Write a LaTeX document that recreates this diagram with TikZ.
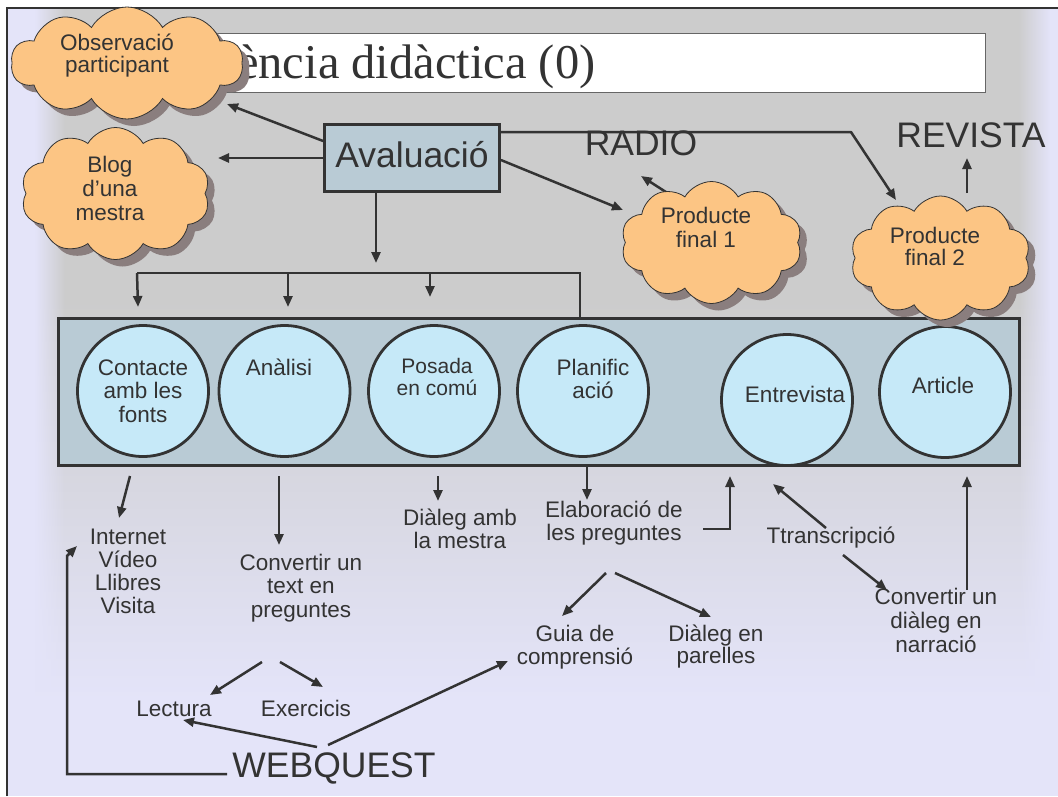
\documentclass[tikz,border=0pt]{standalone}
\usepackage{fontspec}
\setmainfont{Liberation Sans}
\newfontfamily\titleserif{Liberation Serif}
\usetikzlibrary{shapes.symbols,shadows,arrows.meta,fadings}
\definecolor{lav}{HTML}{E4E4F9}
\definecolor{bggray}{HTML}{CCCCCC}
\definecolor{lc}{HTML}{333333}
\definecolor{boxfill}{HTML}{B9CBD5}
\definecolor{circfill}{HTML}{C6E9F8}
\definecolor{cloudfill}{HTML}{FCC584}
\definecolor{shadowc}{HTML}{8A7E7E}
\newcommand{\ml}[1]{\begin{tabular}[t]{@{}c@{}}#1\end{tabular}}
\begin{document}
\begin{tikzpicture}[x=1pt,y=-1pt,
  arr/.style={draw=lc, line width=2.5pt, -{Triangle[length=11pt,width=9pt]}},
  ln/.style={draw=lc, line width=2.5pt},
  cloudnode/.style={cloud, cloud puffs=10, cloud puff arc=120, cloud ignores aspect,
     draw=lc, line width=0.8pt, fill=cloudfill, inner sep=0pt,
     drop shadow={shadow xshift=7pt, shadow yshift=-7pt, fill=shadowc, opacity=1}},
  circnode/.style={circle, minimum size=131pt, draw=lc, line width=2.8pt, fill=circfill, inner sep=0pt},
  txt/.style={inner sep=0pt, text=lc, anchor=base, font=\fontsize{22.5}{23.5}\selectfont},
  ctxt/.style={inner sep=0pt, text=lc, anchor=base, font=\fontsize{22.5}{24}\selectfont},
  bigtxt/.style={inner sep=0pt, text=lc, anchor=base, font=\fontsize{35.5}{38}\selectfont}
]
\useasboundingbox (0,0) rectangle (1058,796);
\fill[white] (0,0) rectangle (1058,796);
% background
\fill[lav] (7,8) rectangle (1058,796);
\fill[bggray] (7,8) rectangle (1058,300);
\shade[top color=bggray, bottom color=lav] (7,300) rectangle (1058,700);
\fill[lav] (7,8) rectangle (35,796);
\fill[lav, path fading=east] (35,8) rectangle (65,796);
\fill[lav, path fading=west] (1018,8) rectangle (1050,796);
\fill[lav] (1050,8) rectangle (1058,796);
\draw[lc, line width=2pt] (7,796) -- (7,8) -- (1058,8);

% title
\node[draw=gray!80!black, line width=0.8pt, fill=white, minimum width=785pt, minimum height=59pt, inner sep=0pt] (titlebox) at (592.5,62.5) {};
\node[inner sep=0pt, anchor=base west, text=lc, font=\titleserif\fontsize{48.5}{50}\selectfont] (title) at (237,78) {ència didàctica (0)};

% panel and circles
\node[draw=lc, line width=2.8pt, fill=boxfill, minimum width=961pt, minimum height=147pt, inner sep=0pt] (panel) at (539,392) {};
\node[circnode] (c1) at (143,391) {};
\node[circnode] (c2) at (284.5,391) {};
\node[circnode] (c3) at (434,391) {};
\node[circnode] (c4) at (583,391) {};
\node[circnode] (c5) at (787,400) {};
\node[circnode] (c6) at (945,392) {};

\node[txt] (c1t) at (143,375) {\ml{Contacte\\amb les\\fonts}};
\node[txt] (c2t) at (279,375) {Anàlisi};
\node[txt, font=\fontsize{21}{22}\selectfont] (c3t) at (437,373) {\ml{Posada\\en comú}};
\node[txt] (c4t) at (593,375) {\ml{Planific\\ació}};
\node[txt] (c5t) at (795,402) {Entrevista};
\node[txt] (c6t) at (943,393) {Article};

% Avaluacio
\node[draw=lc, line width=2.8pt, fill=boxfill, minimum width=175pt, minimum height=67pt, inner sep=0pt,
      text=lc, font=\fontsize{35.5}{38}\selectfont, text height=18pt, text depth=0pt] (aval) at (412,158) {Avaluació};

% big labels
\node[bigtxt] (radio) at (641,155) {RADIO};
\node[bigtxt] (revista) at (971,147) {REVISTA};
\node[bigtxt] (webquest) at (334,777) {WEBQUEST};

% coordinates of free ends
\coordinate (t1) at (227,104);
\coordinate (t2) at (218,158);
\coordinate (t3) at (376,263);
\coordinate (b0) at (580,273);
\coordinate (b1) at (137,273);
\coordinate (d1) at (138,307);
\coordinate (b2) at (288,273);
\coordinate (d2) at (288,307);
\coordinate (b3) at (430,273);
\coordinate (d3) at (430,297);
\coordinate (t5) at (623,210);
\coordinate (k6) at (851,132);
\coordinate (t6) at (896,200);
\coordinate (r1) at (669,194);
\coordinate (r2) at (641,176);
\coordinate (v1) at (967,193);
\coordinate (v2) at (967,158);

% connectors top
\draw[arr] ([yshift=17pt]aval.west) -- (t1);
\draw[arr] (aval.west) -- (t2);
\draw[arr] ([xshift=-36pt]aval.south) -- (t3);
\draw[ln] ([xshift=41pt]panel.north) -- (b0) -- (b1);
\draw[arr] (b1) -- (d1);
\draw[arr] (b2) -- (d2);
\draw[arr] (b3) -- (d3);
\draw[arr] ([yshift=-2pt]aval.east) -- (t5);
\draw[arr, line join=round] ([yshift=26pt]aval.east) -- (k6) -- (t6);
\draw[arr] (r1) -- (r2);
\draw[arr] (v1) -- (v2);

% clouds
\node[cloudnode, minimum width=232pt, minimum height=112pt] (cl1) at (127,63) {};
\node[cloudnode, minimum width=189pt, minimum height=132pt] (cl2) at (115.5,193.5) {};
\node[cloudnode, minimum width=181pt, minimum height=122pt] (cl3) at (711.5,242.5) {};
\node[cloudnode, minimum width=180pt, minimum height=124pt] (cl4) at (940.5,258) {};
\node[ctxt, font=\fontsize{22.5}{22}\selectfont] (cl1t) at (117,50) {\ml{Observació\\participant}};
\node[ctxt] (cl2t) at (110,172) {\ml{Blog\\d’una\\mestra}};
\node[ctxt] (cl3t) at (706,223) {\ml{Producte\\final 1}};
\node[ctxt, font=\fontsize{22.5}{22}\selectfont] (cl4t) at (935,243) {\ml{Producte\\final 2}};

% lower texts
\node[txt, font=\fontsize{22.5}{23}\selectfont] (fonts) at (128,544) {\ml{Internet\\Vídeo\\Llibres\\Visita}};
\node[txt] (conv1) at (301,570) {\ml{Convertir un\\text en\\preguntes}};
\node[txt] (dial1) at (460,525) {\ml{Diàleg amb\\la mestra}};
\node[txt] (elab) at (614,517) {\ml{Elaboració de\\les preguntes}};
\node[txt] (transc) at (831,543) {Ttranscripció};
\node[txt, font=\fontsize{22.5}{22}\selectfont] (guia) at (575,641) {\ml{Guia de\\comprensió}};
\node[txt, font=\fontsize{22.5}{22}\selectfont] (dial2) at (716,641) {\ml{Diàleg en\\parelles}};
\node[txt, font=\fontsize{22.5}{24}\selectfont] (conv2) at (936,604) {\ml{Convertir un\\diàleg en\\narració}};
\node[txt] (lect) at (174,716) {Lectura};
\node[txt] (exer) at (306,716) {Exercicis};

% coordinates lower
\coordinate (e1a) at (130,476); \coordinate (e1b) at (119,518);
\coordinate (e2a) at (279,476); \coordinate (e2b) at (279,545);
\coordinate (e3a) at (438,476); \coordinate (e3b) at (438,501);
\coordinate (e4b) at (587,500);
\coordinate (e5a) at (703,529); \coordinate (e5k) at (730,529); \coordinate (e5b) at (730,476);
\coordinate (e6a) at (826,528); \coordinate (e6b) at (773,484);
\coordinate (e7a) at (843,555); \coordinate (e7b) at (887,590);
\coordinate (e8a) at (967,590); \coordinate (e8b) at (967,476);
\coordinate (e9a) at (606,573); \coordinate (e9b) at (562,616);
\coordinate (e10a) at (615,573); \coordinate (e10b) at (711,617);
\coordinate (e11a) at (262,662); \coordinate (e11b) at (210,695);
\coordinate (e12a) at (280,662); \coordinate (e12b) at (323,687);
\coordinate (e13a) at (317,747); \coordinate (e13b) at (183,720);
\coordinate (e14a) at (328,745); \coordinate (e14b) at (508,661);
\coordinate (e15a) at (227,774); \coordinate (e15k) at (67,774); \coordinate (e15m) at (67,556); \coordinate (e15b) at (77,546);

\draw[arr] (e1a) -- (e1b);
\draw[arr] (e2a) -- (e2b);
\draw[arr] (e3a) -- (e3b);
\draw[arr] (panel.south -| e4b) -- (e4b);
\draw[arr] (e5a) -- (e5k) -- (e5b);
\draw[arr] (e6a) -- (e6b);
\draw[arr] (e7a) -- (e7b);
\draw[arr] (e8a) -- (e8b);
\draw[arr] (e9a) -- (e9b);
\draw[arr] (e10a) -- (e10b);
\draw[arr] (e11a) -- (e11b);
\draw[arr] (e12a) -- (e12b);
\draw[arr] (e13a) -- (e13b);
\draw[arr] (e14a) -- (e14b);
\draw[arr] (e15a) -- (e15k) -- (e15m) -- (e15b);
\end{tikzpicture}
\end{document}
